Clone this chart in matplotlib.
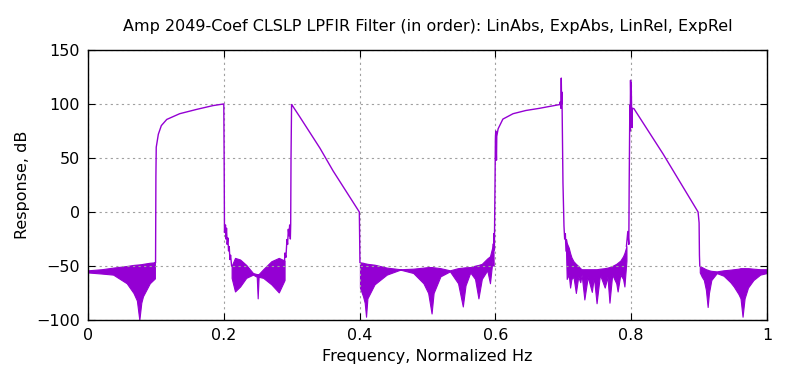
import numpy as np
import matplotlib.pyplot as plt

color = "#9400d3"

# stopband envelopes (freq, upper dB, lower dB)
sb1_f = [0.0, 0.02, 0.037, 0.057, 0.067, 0.072, 0.0756, 0.0785, 0.081, 0.091, 0.0985]
sb1_hi = [-54, -53, -51.5, -50, -49, -48.7, -48.5, -48.3, -48, -47, -46.6]
sb1_lo = [-56, -57, -58, -66, -75, -82, -100, -84, -78, -66, -61.5]

sb2_f = [0.2115, 0.2165, 0.224, 0.233, 0.243, 0.2485, 0.2499, 0.2513, 0.258, 0.270, 0.281, 0.2895]
sb2_hi = [-50, -42.5, -44, -49, -56.5, -57.5, -57.5, -57.5, -53, -45.6, -42.5, -45]
sb2_lo = [-61, -73.6, -69, -61, -58, -60, -80, -60, -61, -67, -74.5, -63]

sb3_f = [0.4005, 0.405, 0.4075, 0.4095, 0.4115, 0.422, 0.44, 0.46, 0.479, 0.494, 0.501,
         0.506, 0.509, 0.519, 0.533, 0.545, 0.552, 0.556, 0.563, 0.570, 0.575, 0.580,
         0.588, 0.592, 0.5965]
sb3_hi = [-46.6, -47, -47.5, -47.7, -48, -48.8, -51.5, -53, -52.5, -51.5, -51,
          -51, -51.2, -52, -54, -52, -51.5, -51.2, -51, -49.7, -49, -48,
          -43, -41, -30]
sb3_lo = [-70, -78, -84, -97, -80, -67, -58, -53.4, -56.5, -66, -75,
          -94, -75, -59.6, -55, -66, -87.5, -68, -56, -62, -80, -62,
          -54, -66, -40]

sb4_f = [0.704, 0.705, 0.708, 0.710, 0.712, 0.715, 0.7185, 0.722, 0.725, 0.727, 0.731,
         0.736, 0.742, 0.745, 0.749, 0.754, 0.761, 0.765, 0.768, 0.772, 0.778, 0.780,
         0.784, 0.788, 0.790, 0.793]
sb4_hi = [-25, -28.6, -33, -38, -42, -45.6, -48, -50, -52, -53, -53,
          -53, -53, -53, -53, -52.5, -52, -51.5, -51, -50, -48, -47,
          -45, -41, -38, -31.7]
sb4_lo = [-36, -62, -58, -70, -62, -60, -75, -60, -65, -58, -81,
          -60, -74, -60, -84.5, -58, -70, -60, -84, -58, -66, -73.6,
          -58, -62, -69, -45]

sb5_f = [0.901, 0.904, 0.907, 0.910, 0.9126, 0.9145, 0.918, 0.926, 0.936, 0.946,
         0.951, 0.958, 0.961, 0.964, 0.967, 0.972, 0.980, 0.99, 1.0]
sb5_hi = [-50, -51, -52, -53, -53.5, -54, -54.5, -55, -54, -53.4,
          -53, -52.5, -52, -52, -52, -52, -52.5, -53, -53]
sb5_lo = [-56, -60, -63, -72, -88, -75, -63, -56.6, -59, -65,
          -69, -76, -80, -97, -80, -70, -63, -58, -56.5]

# passband / transition traces
tr1_f = [0.0985, 0.0995, 0.1, 0.1005, 0.1036, 0.108, 0.116, 0.135, 0.16, 0.184, 0.1995,
         0.2, 0.2005, 0.201, 0.2025, 0.203, 0.204, 0.205, 0.206, 0.207, 0.208, 0.209, 0.21, 0.2115]
tr1_db = [-47, -47, 33, 60, 72, 80, 85.7, 91, 95, 98.5, 100,
          100, 50, -19, -12, -25, -15, -30, -24, -36, -32, -44, -40, -50]

tr2_f = [0.2895, 0.290, 0.2915, 0.293, 0.294, 0.295, 0.296, 0.297, 0.298, 0.2985, 0.299,
         0.2998, 0.3, 0.312, 0.3417, 0.361, 0.3996, 0.4, 0.4005]
tr2_db = [-45, -38, -42, -25.5, -30, -16, -22, -12, -25, -12, 50,
          99, 99.5, 88, 59, 38, 0, -20, -46.6]

tr3_f = [0.5965, 0.5975, 0.598, 0.5985, 0.599, 0.5995, 0.6, 0.6005, 0.601, 0.6016, 0.602,
         0.604, 0.611, 0.626, 0.645, 0.665, 0.676, 0.695, 0.6955, 0.6965, 0.697, 0.6975,
         0.698, 0.6995, 0.701, 0.702, 0.703, 0.704]
tr3_db = [-30, -50, -20, -35, 0, 30, 68, 75, 62, 48, 70,
          77, 86, 91, 94, 96, 97.3, 99.5, 102, 96, 124, 100,
          111, 27, -13, -25, -20, -36]

tr4_f = [0.793, 0.795, 0.7965, 0.797, 0.798, 0.7985, 0.799, 0.7995, 0.8, 0.8005, 0.801,
         0.8015, 0.804, 0.847, 0.8985, 0.9, 0.9005, 0.901]
tr4_db = [-31.7, -18, -30, 24, 99, 75, 122, 100, 120, 99, 78,
          96, 95.7, 53.7, 0, -10, -40, -50]

fig = plt.figure(figsize=(8, 3.75), dpi=100)
ax = fig.add_axes([0.11, 0.1467, 0.84875, 0.72])

for f, hi, lo in [(sb1_f, sb1_hi, sb1_lo), (sb2_f, sb2_hi, sb2_lo), (sb3_f, sb3_hi, sb3_lo),
                  (sb4_f, sb4_hi, sb4_lo), (sb5_f, sb5_hi, sb5_lo)]:
    ax.fill_between(f, lo, hi, color=color, linewidth=0.8, edgecolor=color)

for f, db in [(tr1_f, tr1_db), (tr2_f, tr2_db), (tr3_f, tr3_db), (tr4_f, tr4_db)]:
    ax.plot(f, db, color=color, linewidth=1.0)

ax.set_xlim(0, 1)
ax.set_ylim(-100, 150)
ax.set_xticks([0, 0.2, 0.4, 0.6, 0.8, 1])
ax.set_xticklabels(["0", "0.2", "0.4", "0.6", "0.8", "1"])
ax.set_yticks([-100, -50, 0, 50, 100, 150])
ax.grid(True, color="#a0a0a0", linestyle=(0, (2, 3)), linewidth=0.8)
ax.tick_params(direction="in", top=True, right=True, length=5, labelsize=11.5, pad=6)
for s in ax.spines.values():
    s.set_linewidth(1.0)

ax.set_title("Amp 2049-Coef CLSLP LPFIR Filter (in order): LinAbs, ExpAbs, LinRel, ExpRel",
             fontsize=11.5, pad=14)
ax.set_xlabel("Frequency, Normalized Hz", fontsize=11.5)
ax.set_ylabel("Response, dB", fontsize=11.5)

fig.savefig("out.png", dpi=100)
